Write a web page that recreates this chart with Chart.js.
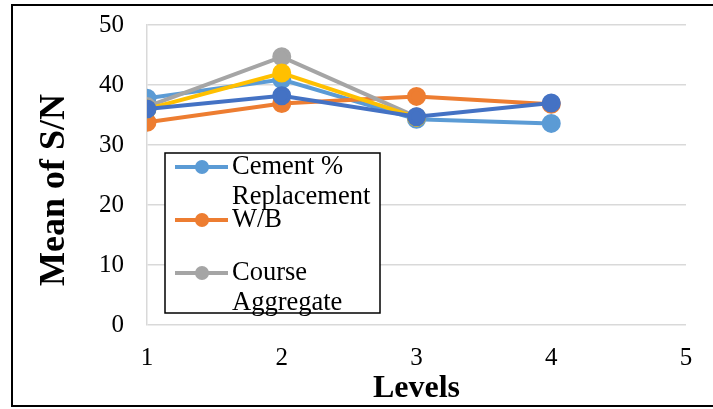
<!DOCTYPE html>
<html>
<head>
<meta charset="utf-8">
<script src="https://cdn.jsdelivr.net/npm/chart.js@4.4.0/dist/chart.umd.min.js"></script>
<style>
  html, body { margin: 0; padding: 0; background: #fff; }
  #wrap { width: 713px; height: 409px; position: relative; }
</style>
</head>
<body>
<div id="wrap"><canvas id="c" width="713" height="409"></canvas></div>
<script>
// Levels on the x axis and mean S/N ratio per factor level
const levels = [1, 2, 3, 4];
const seriesNames = ["Cement % Replacement", "W/B", "Course Aggregate", "Factor 4", "Factor 5"];
const cementReplacement = [37.8, 40.9, 34.3, 33.6];
const waterBinder = [33.8, 36.9, 38.1, 36.8];
const courseAggregate = [36.4, 44.7, 34.7];
const factor4 = [36.0, 42.0, 34.6];
const factor5 = [36.0, 38.2, 34.7, 37.0];
const xTickValues = [1, 2, 3, 4, 5];
const yTickValues = [0, 10, 20, 30, 40, 50];
const xTitle = 'Levels';
const yTitle = 'Mean of S/N';

const seriesValues = [cementReplacement, waterBinder, courseAggregate, factor4, factor5];
const seriesColors = ["#5B9BD5", "#ED7D31", "#A5A5A5", "#FFC000", "#4472C4"];
const legendEntries = 3; // only the first three entries fit inside the legend box

const serif = "'Liberation Serif', 'Times New Roman', serif";

const datasets = seriesValues.map((vals, i) => ({
  label: seriesNames[i],
  data: vals.map((v, j) => ({ x: levels[j], y: v })),
  borderColor: seriesColors[i],
  backgroundColor: seriesColors[i],
  pointBackgroundColor: seriesColors[i],
  pointBorderColor: seriesColors[i],
  borderWidth: 4,
  pointRadius: 7.5,
  pointHoverRadius: 7.5,
  tension: 0,
  order: seriesValues.length - i // later series paint on top
}));

// Boxed legend with wrapped labels overlapping the plot, vertical axis title, outer frame
const decorations = {
  id: 'decorations',
  afterDraw(chart) {
    const ctx = chart.ctx;
    ctx.save();

    // vertical axis title, sitting a little below the plot's middle
    ctx.save();
    ctx.translate(55, 190);
    ctx.rotate(-Math.PI / 2);
    ctx.font = `bold 36px ${serif}`;
    ctx.fillStyle = '#000';
    ctx.textAlign = 'center';
    ctx.textBaseline = 'middle';
    ctx.fillText(yTitle, 0, 0);
    ctx.restore();

    const box = { x: 165, y: 153, w: 215, h: 160 };
    ctx.fillStyle = '#fff';
    ctx.fillRect(box.x, box.y, box.w, box.h);
    ctx.font = `26.5px ${serif}`;
    ctx.textBaseline = 'middle';
    ctx.textAlign = 'left';
    const pitch = 53, lineGap = 30, textX = 232, maxW = box.x + box.w - textX;
    for (let i = 0; i < legendEntries; i++) {
      const ds = chart.data.datasets[i];
      const cy = box.y + 14 + i * pitch;
      ctx.strokeStyle = ds.borderColor;
      ctx.lineWidth = 4;
      ctx.beginPath();
      ctx.moveTo(175, cy);
      ctx.lineTo(228, cy);
      ctx.stroke();
      ctx.fillStyle = ds.backgroundColor;
      ctx.beginPath();
      ctx.arc(202, cy, 7, 0, Math.PI * 2);
      ctx.fill();
      // wrap label words into lines that fit the box
      const words = ds.label.split(' ');
      const lines = [];
      let cur = '';
      words.forEach(w => {
        const t = cur ? cur + ' ' + w : w;
        if (cur && ctx.measureText(t).width > maxW) { lines.push(cur); cur = w; }
        else cur = t;
      });
      if (cur) lines.push(cur);
      ctx.fillStyle = '#000';
      lines.forEach((ln, k) => ctx.fillText(ln, textX, cy + k * lineGap));
    }
    ctx.strokeStyle = '#000';
    ctx.lineWidth = 1.5;
    ctx.strokeRect(box.x, box.y, box.w, box.h);

    // outer frame
    ctx.lineWidth = 2;
    ctx.strokeRect(12, 5, 720, 401);
    ctx.restore();
  }
};

new Chart(document.getElementById('c'), {
  type: 'line',
  data: { datasets },
  options: {
    responsive: false,
    animation: false,
    devicePixelRatio: 1,
    layout: { padding: { top: 25, right: 27, bottom: 0, left: 12 } },
    plugins: { legend: { display: false }, tooltip: { enabled: false } },
    scales: {
      x: {
        type: 'linear',
        min: 1, max: 5,
        afterBuildTicks: s => { s.ticks = xTickValues.map(v => ({ value: v })); },
        afterFit: s => { s.height = 84; s.paddingLeft = 0; s.paddingRight = 0; },
        ticks: { font: { family: serif, size: 25 }, color: '#000', padding: 18 },
        grid: { display: false, drawTicks: false },
        border: { display: false },
        title: {
          display: true, text: xTitle, color: '#000',
          font: { family: serif, size: 32, weight: 'bold' },
          padding: { top: 0, bottom: 1 }
        }
      },
      y: {
        min: 0, max: 50,
        afterBuildTicks: s => { s.ticks = yTickValues.map(v => ({ value: v })); },
        afterFit: s => { s.width = 135; s.paddingTop = 0; s.paddingBottom = 0; },
        ticks: { font: { family: serif, size: 25 }, color: '#000', padding: 23 },
        grid: { color: '#D9D9D9', lineWidth: 1.5, drawTicks: false },
        border: { display: true, color: '#D9D9D9', width: 1.5 }
      }
    }
  },
  plugins: [decorations]
});
</script>
</body>
</html>
